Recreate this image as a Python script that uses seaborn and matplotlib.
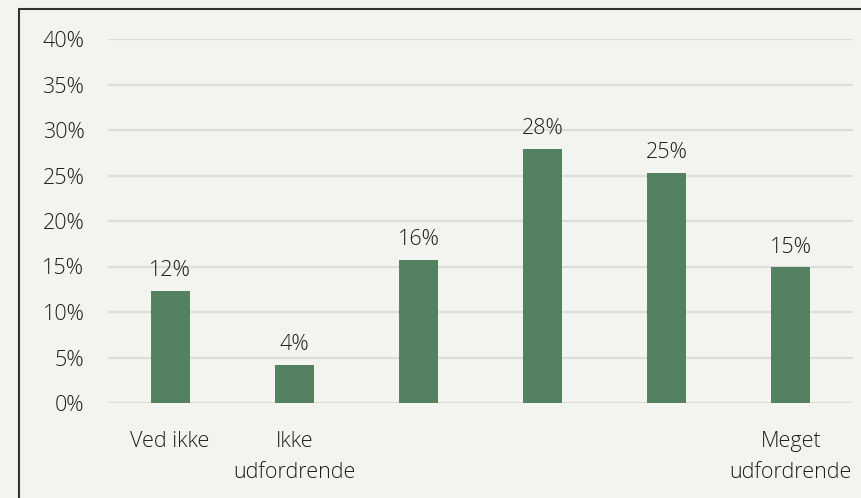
import matplotlib
matplotlib.use("Agg")
import matplotlib.pyplot as plt
import seaborn as sns
import pandas as pd
from matplotlib.lines import Line2D

categories = ["Ved ikke", "Ikke\nudfordrende", " ", "  ", "   ", "Meget\nudfordrende"]
values = [12.3, 4.2, 15.7, 27.9, 25.3, 14.9]
labels = ["12%", "4%", "16%", "28%", "25%", "15%"]
yticks = [0, 5, 10, 15, 20, 25, 30, 35, 40]
ytick_labels = ["0%", "5%", "10%", "15%", "20%", "25%", "30%", "35%", "40%"]

bg = "#f3f3ef"
green = "#548160"
txt = "#1e1e1e"
FS = 15.5

sns.set_theme(style="white")
plt.rcParams["font.family"] = ["Open Sans", "DejaVu Sans"]
plt.rcParams["font.weight"] = "light"

fig = plt.figure(figsize=(8.61, 4.98), dpi=100, facecolor=bg)
ax = fig.add_axes([108 / 861, 1 - 403 / 498, (853 - 108) / 861, (403 - 39) / 498])
ax.set_facecolor(bg)

df = pd.DataFrame({"cat": categories, "val": values})
sns.barplot(data=df, x="cat", y="val", color=green, width=0.315, ax=ax,
            saturation=1, edgecolor="none", order=categories)

ax.set_ylim(0, 40)
ax.set_xlim(-0.5, len(categories) - 0.5)
ax.set_yticks(yticks)
ax.set_yticklabels(ytick_labels, fontsize=FS, color=txt, fontweight="light")
ax.set_xticks(range(len(categories)))
ax.set_xticklabels(categories, fontsize=FS, color=txt, linespacing=1.62,
                   fontweight="light")
ax.tick_params(axis="y", length=0, pad=17)
ax.tick_params(axis="x", length=0, pad=20.5)
ax.set_xlabel("")
ax.set_ylabel("")
ax.set_axisbelow(True)
ax.yaxis.grid(True, color="#dcdcd8", linewidth=1.6)
for s in ax.spines.values():
    s.set_visible(False)

for i, (v, lab) in enumerate(zip(values, labels)):
    ax.annotate(lab, (i, v), xytext=(0, 7), textcoords="offset points",
                ha="center", va="bottom", fontsize=FS, color=txt,
                fontweight="light")

# figure border (left and top visible)
fig.add_artist(Line2D([18.5 / 861, 18.5 / 861], [0, 1 - 9.5 / 498],
                      transform=fig.transFigure, color="#333333", linewidth=1.5))
fig.add_artist(Line2D([18.5 / 861, 1], [1 - 9.5 / 498, 1 - 9.5 / 498],
                      transform=fig.transFigure, color="#333333", linewidth=1.5))

fig.savefig("out.png", dpi=100, facecolor=bg)
